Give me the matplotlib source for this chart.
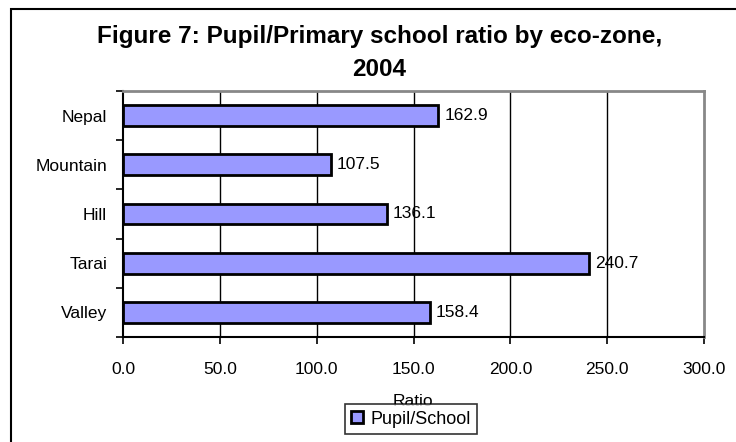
import numpy as np
import matplotlib
matplotlib.use("Agg")
import matplotlib.pyplot as plt
from matplotlib.patches import Rectangle

zones = ["Nepal", "Mountain", "Hill", "Tarai", "Valley"]
ratio = [162.9, 107.5, 136.1, 240.7, 158.4]
xticks = [0, 50, 100, 150, 200, 250, 300]

plt.rcParams['font.family'] = ['Liberation Sans', 'DejaVu Sans']

fig = plt.figure(figsize=(7.36, 4.42), dpi=100)
W, H = 736, 442

# outer chart frame (cut off at right and bottom like the reference)
fig.patches.append(Rectangle((11 / W, -0.1), 1.2, (H - 9) / H + 0.1,
                             transform=fig.transFigure, fill=False,
                             edgecolor="black", linewidth=1.5))

ax = fig.add_axes([123 / W, (H - 337) / H, 581 / W, 246 / H])

y = np.arange(len(zones))[::-1]
ax.barh(y, ratio, height=0.42, color="#9999FF", edgecolor="black",
        linewidth=2, zorder=3)

for yi, v in zip(y, ratio):
    ax.text(v + 3, yi, f"{v:.1f}", va="center", ha="left", fontsize=12.5, zorder=4)

ax.set_xlim(0, 300)
ax.set_ylim(-0.5, len(zones) - 0.5)
ax.set_xticks(xticks)
ax.set_xticklabels([f"{t:.1f}" for t in xticks], fontsize=12.5)
ax.set_yticks(y)
ax.set_yticklabels(zones, fontsize=12.5)
ax.set_yticks(np.arange(-0.5, len(zones)), minor=True)
ax.tick_params(axis="y", which="major", length=0, pad=11.5)
ax.tick_params(axis="y", which="minor", length=5, width=1.2, direction="out")
ax.tick_params(axis="x", length=5, width=1.2, direction="out", pad=13)

for t in xticks[1:-1]:
    ax.axvline(t, color="black", linewidth=1, zorder=1)

ax.spines["left"].set_color("black")
ax.spines["bottom"].set_color("black")
ax.spines["left"].set_linewidth(1.5)
ax.spines["bottom"].set_linewidth(1.5)
ax.spines["top"].set_color("#888888")
ax.spines["right"].set_color("#888888")
ax.spines["top"].set_linewidth(2)
ax.spines["right"].set_linewidth(2)

fig.text(0.5 * (97 + 662) / W, 1 - 53 / H,
         "Figure 7: Pupil/Primary school ratio by eco-zone,\n2004",
         ha="center", va="center", fontsize=17.5, fontweight="bold",
         linespacing=1.5)

fig.text(413 / W, 1 - 401 / H, "Ratio", ha="center", va="center", fontsize=12.5)

handle = Rectangle((0, 0), 1, 1, facecolor="#9999FF", edgecolor="black", linewidth=2)
leg = fig.legend([handle], ["Pupil/School"], loc="center",
                 bbox_to_anchor=(411 / W, 1 - 419 / H), fontsize=13,
                 frameon=True, fancybox=False, edgecolor="black",
                 handlelength=0.65, handleheight=0.65, handletextpad=0.4,
                 borderpad=0.35, borderaxespad=0)
leg.get_frame().set_linewidth(1.2)

fig.savefig("out.png", dpi=100)
